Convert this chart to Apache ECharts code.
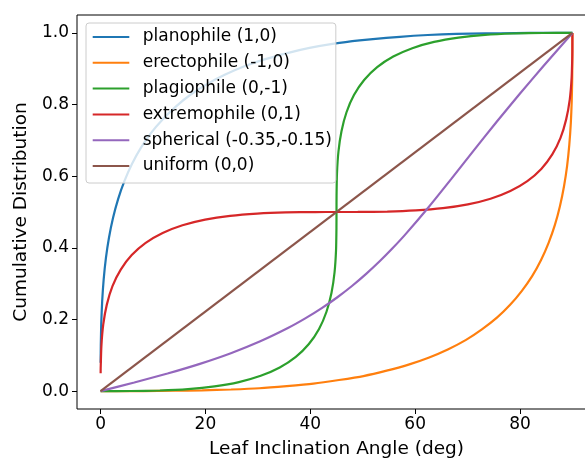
<!DOCTYPE html>
<html>
<head>
<meta charset="utf-8">
<style>
  html, body { margin: 0; padding: 0; background: #ffffff; }
  #chart { width: 585px; height: 460px; }
</style>
<script src="https://cdn.jsdelivr.net/npm/echarts@6/dist/echarts.min.js"></script>
</head>
<body>
<div id="chart"></div>
<script>
// ---- Data ----
const seriesNames = ['planophile (1,0)', 'erectophile (-1,0)', 'plagiophile (0,-1)', 'extremophile (0,1)', 'spherical (-0.35,-0.15)', 'uniform (0,0)'];
const seriesColors = ['#1f77b4', '#ff7f0e', '#2ca02c', '#d62728', '#9467bd', '#8c564b'];

const xTicks = [0, 20, 40, 60, 80];
const yTicks = [0, 0.2, 0.4, 0.6, 0.8, 1.0];

const planoAngle = [0.009, 0.038, 0.128, 0.303, 0.589, 1.013, 1.598, 2.367, 3.342, 4.541, 5.981, 7.676, 9.638, 11.876, 14.396, 17.20, 20.29, 23.67, 27.32, 31.25, 35.43, 39.86, 44.53, 49.40, 54.48, 59.72, 65.11, 70.62, 76.22, 81.90, 90];
const planoCum   = [0.079, 0.127, 0.190, 0.251, 0.312, 0.371, 0.428, 0.483, 0.536, 0.586, 0.634, 0.679, 0.721, 0.759, 0.795, 0.828, 0.857, 0.883, 0.906, 0.926, 0.943, 0.958, 0.970, 0.979, 0.986, 0.992, 0.996, 0.998, 0.999, 1.000, 1.000];

const erectoAngle = [0, 8.10, 13.78, 19.38, 24.89, 30.28, 35.52, 40.60, 45.47, 50.14, 54.57, 58.75, 62.68, 66.33, 69.71, 72.80, 75.60, 78.12, 80.36, 82.32, 84.02, 85.46, 86.66, 87.63, 88.40, 88.99, 89.41, 89.70, 89.87, 89.96, 89.99, 90];
const erectoCum   = [0, 0.000, 0.001, 0.002, 0.0045, 0.008, 0.014, 0.021, 0.031, 0.042, 0.057, 0.074, 0.094, 0.117, 0.143, 0.173, 0.205, 0.241, 0.280, 0.321, 0.366, 0.414, 0.464, 0.517, 0.572, 0.629, 0.688, 0.749, 0.810, 0.873, 0.921, 1.0];

const plagioAngle = [0, 5.71, 11.31, 16.68, 21.73, 26.38, 30.54, 34.17, 37.24, 39.73, 41.67, 43.09, 44.05, 44.63, 44.91, 44.99, 45, 45.01, 45.09, 45.37, 45.95, 46.91, 48.33, 50.27, 52.76, 55.83, 59.46, 63.62, 68.27, 73.32, 78.69, 84.29, 90];
const plagioCum   = [0, 0.0002, 0.0017, 0.0056, 0.0132, 0.0252, 0.0427, 0.066, 0.0956, 0.1315, 0.1736, 0.2215, 0.2745, 0.3318, 0.3923, 0.455, 0.5, 0.545, 0.6077, 0.6682, 0.7255, 0.7785, 0.8264, 0.8685, 0.9044, 0.934, 0.9573, 0.9748, 0.9868, 0.9944, 0.9983, 0.9998, 1.0];

const extremeAngle = [0.009, 0.018, 0.153, 0.504, 1.188, 2.268, 3.843, 5.94, 8.60, 11.84, 15.62, 19.94, 24.71, 29.86, 35.31, 40.95, 45, 49.05, 54.69, 60.14, 65.29, 70.06, 74.38, 78.16, 81.40, 84.06, 86.16, 87.73, 88.81, 89.50, 89.85, 89.98, 89.991, 90];
const extremeCum   = [0.05, 0.0634, 0.1257, 0.1853, 0.2414, 0.2931, 0.3393, 0.3797, 0.4138, 0.4414, 0.463, 0.4788, 0.4894, 0.4957, 0.499, 0.4999, 0.5, 0.5001, 0.501, 0.5043, 0.5106, 0.5212, 0.537, 0.5586, 0.5862, 0.6203, 0.6607, 0.7069, 0.7586, 0.8147, 0.8743, 0.9366, 0.95, 1.0];

const sphereAngle = [0, 6.43, 12.77, 18.94, 24.85, 30.46, 35.73, 39.04, 42.19, 45.17, 48.01, 50.71, 53.28, 55.73, 58.10, 62.60, 66.94, 71.23, 75.56, 79.97, 84.48, 90];
const sphereCum   = [0, 0.024, 0.0491, 0.0761, 0.1058, 0.139, 0.176, 0.2029, 0.2316, 0.262, 0.2941, 0.3279, 0.363, 0.3993, 0.4368, 0.514, 0.5931, 0.6728, 0.752, 0.8303, 0.9075, 1.0];

const uniformAngle = [0, 90];
const uniformCum   = [0, 1];

// ---- Build chart ----
const FONT = 'DejaVu Sans';
const allAngles = [planoAngle, erectoAngle, plagioAngle, extremeAngle, sphereAngle, uniformAngle];
const allCums = [planoCum, erectoCum, plagioCum, extremeCum, sphereCum, uniformCum];

function pairs(xs, ys) { return xs.map((x, i) => [x, ys[i]]); }

const series = seriesNames.map((name, i) => ({
  name: name,
  type: 'line',
  data: pairs(allAngles[i], allCums[i]),
  symbol: 'none',
  showSymbol: false,
  smooth: 0.2,
  clip: true,
  lineStyle: { color: seriesColors[i], width: 2.2 },
  itemStyle: { color: seriesColors[i] },
  emphasis: { disabled: true },
  animation: false
}));

const chart = echarts.init(document.getElementById('chart'), null, { renderer: 'canvas' });
chart.setOption({
  animation: false,
  backgroundColor: '#ffffff',
  grid: {
    left: 77, right: -11, top: 15, bottom: 51,
    outerBoundsMode: 'none',
    show: true, borderColor: '#000000', borderWidth: 1, backgroundColor: 'transparent',
    containLabel: false
  },
  legend: {
    show: true,
    orient: 'vertical',
    left: 86, top: 23,
    padding: [5.5, 4, 8.5, 5.7],
    itemWidth: 36.6, itemHeight: 17,
    itemGap: 8.8,
    backgroundColor: 'rgba(255,255,255,0.8)',
    borderColor: '#cccccc', borderWidth: 1, borderRadius: 3,
    itemStyle: { color: 'rgba(0,0,0,0)', opacity: 0, borderWidth: 0 },
    textStyle: { fontFamily: FONT, fontSize: 17, color: '#000000', lineHeight: 17, padding: [0, 0, 0, 8.4] },
    data: seriesNames,
    selectedMode: false
  },
  xAxis: {
    type: 'value',
    min: -4.5, max: 94.5,
    name: 'Leaf Inclination Angle (deg)',
    nameLocation: 'middle',
    nameGap: 31,
    nameTextStyle: { fontFamily: FONT, fontSize: 18.5, color: '#000000' },
    axisLine: { show: false, onZero: false },
    axisTick: { show: true, customValues: xTicks, length: 5, lineStyle: { color: '#000000', width: 1 } },
    axisLabel: { show: true, customValues: xTicks, margin: 7, fontFamily: FONT, fontSize: 17, color: '#000000',
      formatter: v => String(v) },
    splitLine: { show: false }
  },
  yAxis: {
    type: 'value',
    min: -0.05, max: 1.05,
    name: 'Cumulative Distribution',
    nameLocation: 'middle',
    nameGap: 36,
    nameTextStyle: { fontFamily: FONT, fontSize: 18.5, color: '#000000' },
    axisLine: { show: false, onZero: false },
    axisTick: { show: true, customValues: yTicks, length: 5, lineStyle: { color: '#000000', width: 1 } },
    axisLabel: { show: true, customValues: yTicks, margin: 8, fontFamily: FONT, fontSize: 17, color: '#000000',
      formatter: v => Number(v).toFixed(1) },
    splitLine: { show: false }
  },
  tooltip: { show: false },
  series: series
});
</script>
</body>
</html>
